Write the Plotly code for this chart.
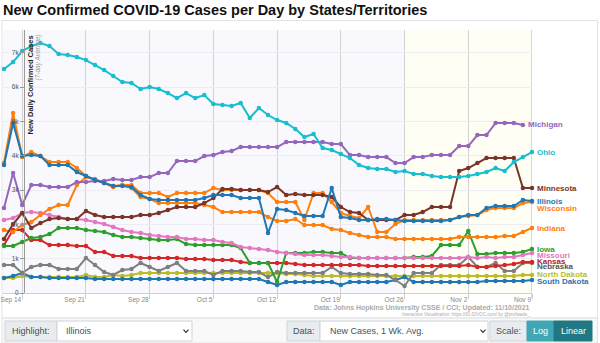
import plotly.graph_objects as go
import pandas as pd

# ---------------- data ----------------
dates = pd.date_range("2021-09-12", "2021-11-09", freq="D")

ohio = [6530,6734,7054,7200,7288,7200,6967,6938,6879,6792,6646,6500,6326,6151,6122,5947,6005,5947,5830,5684,
        5830,5684,5772,5509,5480,5451,5539,5101,5393,5189,5043,4956,4781,4547,4635,4227,4168,4052,3935,3731,
        3644,3615,3615,3527,3556,3469,3469,3411,3381,3381,3381,3411,3469,3527,3644,3556,3819,3964,4110]
michigan = [2478,3498,2565,3148,3148,3090,3090,3090,3236,3236,3265,3265,3323,3294,3294,3381,3381,3498,3498,3848,
            3848,3848,3994,4023,4110,4139,4256,4256,4256,4256,4256,4402,4402,4402,4402,4402,4343,4343,4023,4023,
            3964,3964,3964,3790,3790,3964,3964,4023,4023,4023,4285,4285,4606,4606,4956,4956,4956,4897,None]
minnesota = [1574,2011,2332,1895,2040,2157,2186,2157,2157,2390,2274,2215,2215,2215,2215,2274,2274,2332,2419,2507,
             2507,2507,2623,2769,3032,3032,3002,3002,3002,2944,3090,2857,2886,2857,2857,2857,2798,2507,2361,2332,
             2128,2128,2128,2128,2274,2274,2361,2507,2507,2507,3556,3644,3790,3935,3935,3935,3935,3061,3061]
illinois = [3731,4956,3994,4023,3994,3731,3731,3731,3527,3411,3294,3207,3119,3119,3090,2857,2740,2711,2711,2711,
            2711,2711,2769,2857,2857,2857,2769,2769,2769,1749,2449,2419,2332,2245,2245,2245,3061,2215,2186,2128,
            2128,2157,2157,2128,2099,2099,2099,2099,2099,2128,2215,2274,2274,2478,2536,2536,2536,2711,2682]
indiana = [3790,5247,3964,4110,3994,3819,3819,3819,3644,3411,3294,3207,3119,3148,3061,2798,2740,2623,2623,2623,
           2623,2623,2565,2507,2361,2361,2361,2361,2361,2215,2099,2099,2157,1982,1982,1982,1866,1836,1749,1691,
           1632,1632,1632,1574,1574,1574,1574,1574,1574,1574,1632,1632,1632,1632,1632,1662,1662,1778,1895]
wisconsin = [1836,1778,1982,2070,2274,2449,2565,2565,3148,3381,3323,3207,3090,3148,3148,2915,2915,2915,2798,2915,
             2915,2915,2915,3061,3002,3002,3002,3002,3002,2915,2653,2653,2653,2128,2915,2915,2653,2332,2245,2186,
             2507,1778,1778,2011,2128,2128,2128,2128,2128,2128,2215,2245,2274,2419,2478,2478,2478,2623,2653]
missouri = [2128,2186,2332,2361,2332,2274,2215,2157,2157,2128,2070,2011,1924,1836,1778,1749,1691,1662,1632,1632,
            1574,1574,1545,1545,1487,1458,1341,1312,1283,1253,1195,1166,1137,1108,1108,1108,1079,1049,1049,1020,
            1020,1020,1020,1020,1020,1020,1020,1020,1020,1020,1020,1049,1020,1049,1020,1049,1049,1108,1166]
iowa = [1370,1370,1487,1603,1632,1720,1895,1895,1895,1836,1807,1778,1691,1632,1632,1603,1574,1545,1545,1574,
        1428,1399,1399,1399,1399,1399,1312,875,875,875,321,1166,1166,1166,1195,1195,1166,1166,1020,1020,
        1020,1020,1020,1020,1020,1049,1049,1079,1399,1399,1399,1807,1137,1137,1166,1166,1166,1195,1283]
kansas = [1399,1836,1836,1545,1545,1399,1399,1399,1370,1370,1195,1195,1079,1079,1079,1020,1020,1020,1020,1020,
          991,991,991,962,962,962,904,875,875,875,875,875,845,816,816,816,816,816,816,816,
          787,787,787,787,787,787,787,787,787,787,787,816,758,758,787,816,845,904,904]
nebraska = [816,816,583,758,816,816,700,700,700,1020,816,612,525,670,700,875,758,641,758,875,
            641,641,641,525,641,641,641,612,612,466,612,583,583,583,583,583,758,583,554,554,
            554,525,525,379,204,583,583,583,816,816,816,1049,758,758,875,641,641,875,875]
north_dakota = [437,437,496,466,466,466,466,466,466,525,466,466,525,496,525,583,583,583,583,583,
                583,583,583,583,583,583,583,583,583,583,583,554,554,525,496,496,496,496,496,496,
                496,496,496,496,496,496,496,496,496,496,496,496,496,496,496,496,496,525,525]
south_dakota = [437,496,583,466,466,437,437,437,437,437,408,408,408,408,408,408,408,408,408,408,
                408,408,408,408,408,408,408,408,408,321,233,321,321,321,321,321,321,233,321,321,
                321,321,321,379,466,321,321,321,321,321,321,321,321,350,350,350,350,350,379]

ytick_vals = [0, 1000, 2000, 3000, 4000, 5000, 6000, 7000]
ytick_text = ["0", "1k", "2k", "3k", "4k", "5k", "6k", "7k"]

series = [
    ("North Dakota", north_dakota, "#bcbd22"),
    ("South Dakota", south_dakota, "#1f77b4"),
    ("Nebraska", nebraska, "#7f7f7f"),
    ("Kansas", kansas, "#d62728"),
    ("Iowa", iowa, "#2ca02c"),
    ("Missouri", missouri, "#e377c2"),
    ("Indiana", indiana, "#ff7f0e"),
    ("Wisconsin", wisconsin, "#ff7f0e"),
    ("Minnesota", minnesota, "#7a3428"),
    ("Michigan", michigan, "#9467bd"),
    ("Ohio", ohio, "#17becf"),
    ("Illinois", illinois, "#1f77b4"),
]
label_color = {"Nebraska": "#555555", "Kansas": "#b8201f"}
label_shift = {"Michigan": 1, "Wisconsin": -6, "Missouri": -2, "Nebraska": -4, "South Dakota": -1}

# ---------------- layout helpers (pixel -> paper) ----------------
L, R, T, B = 3, 532, 30, 293
def px(x):
    return (x - L) / (R - L)
def py(y):
    return (B - y) / (B - T)

FONT = "Liberation Sans"
fig = go.Figure()

for name, vals, col in series:
    fig.add_trace(go.Scatter(
        x=dates, y=vals, mode="lines+markers", name=name,
        line=dict(color=col, width=2),
        marker=dict(color=col, size=4.5),
        cliponaxis=False, hoverinfo="skip", connectgaps=False))

annotations = []
for name, vals, col in series:
    idx = max(i for i, v in enumerate(vals) if v is not None)
    annotations.append(dict(
        x=dates[idx], y=vals[idx], xref="x", yref="y", text="<b>%s</b>" % name,
        showarrow=False, xanchor="left", yanchor="middle", xshift=3,
        yshift=label_shift.get(name, 0),
        font=dict(family=FONT, size=8, color=label_color.get(name, col))))

# axis title (rotated)
annotations.append(dict(x=px(30), y=py(34), xref="paper", yref="paper",
                        text="<b>New Daily Confirmed Cases</b>", textangle=-90,
                        showarrow=False, xanchor="center", yanchor="top",
                        font=dict(family=FONT, size=7.5, color="#222")))
annotations.append(dict(x=px(37.5), y=py(33), xref="paper", yref="paper",
                        text="<i>(7-day Average)</i>", textangle=-90,
                        showarrow=False, xanchor="center", yanchor="top",
                        font=dict(family=FONT, size=6.5, color="#999")))
# footer
annotations.append(dict(x=px(532), y=py(308), xref="paper", yref="paper",
                        text="<b>Data: Johns Hopkins University CSSE / CCI; Updated: 11/10/2021</b>",
                        showarrow=False, xanchor="right", yanchor="middle",
                        font=dict(family=FONT, size=7, color="#aaa")))
annotations.append(dict(x=px(532), y=py(314.5), xref="paper", yref="paper",
                        text="Interactive Visualization: https://91-DIVOC.com/ by @profwade_",
                        showarrow=False, xanchor="right", yanchor="middle",
                        font=dict(family=FONT, size=4.5, color="#aaa")))

# controls text
ctl_y = py(331)
def ctext(x, text, anchor="center", color="#495057", size=9):
    annotations.append(dict(x=px(x), y=ctl_y, xref="paper", yref="paper", text=text,
                            showarrow=False, xanchor=anchor, yanchor="middle",
                            font=dict(family=FONT, size=size, color=color)))
ctext(31, "Highlight:")
ctext(64, "Illinois", "left")
ctext(303.5, "Data:")
ctext(328, "New Cases, 1 Wk. Avg.", "left")
ctext(508.5, "Scale:")
ctext(540.5, "Log", color="white")
ctext(573, "Linear", color="white")

shapes = []
# card frame and separator
shapes.append(dict(type="rect", xref="paper", yref="paper", x0=px(2), x1=px(597.5), y0=py(318), y1=py(20.5),
                   line=dict(color="#e2e2e2", width=1), fillcolor="rgba(0,0,0,0)", layer="below"))
shapes.append(dict(type="rect", xref="paper", yref="paper", x0=px(2), x1=px(597.5), y0=py(343), y1=py(318),
                   line=dict(color="#e2e2e2", width=1), fillcolor="#f9f9f9", layer="below"))
# highlighted recent-period background
shapes.append(dict(type="rect", xref="x", yref="paper", x0="2021-10-26", x1="2021-11-09", y0=0, y1=1,
                   line=dict(width=0), fillcolor="#fefef4", layer="below"))
# right border line
shapes.append(dict(type="line", xref="x", yref="paper", x0="2021-11-09", x1="2021-11-09", y0=py(298), y1=1,
                   line=dict(color="#b5b5b5", width=1), layer="below"))

def box(x0, x1, fill, line="#ced4da"):
    shapes.append(dict(type="rect", xref="paper", yref="paper", x0=px(x0), x1=px(x1),
                       y0=py(341), y1=py(321), line=dict(color=line, width=1), fillcolor=fill))
box(5, 57, "#e9ecef")
box(57, 192, "white")
box(287, 320, "#e9ecef")
box(320, 488, "white")
box(490, 527, "#e9ecef")
box(527, 554, "#41a7b5", "#41a7b5")
box(554, 592, "#1f7883", "#1f7883")

def chevron(cx, cy):
    shapes.append(dict(type="path", xref="paper", yref="paper",
                       path="M %f %f L %f %f L %f %f" % (px(cx - 2.5), py(cy - 1.3), px(cx), py(cy + 1.3),
                                                        px(cx + 2.5), py(cy - 1.3)),
                       line=dict(color="#333", width=1.2)))
chevron(186, 331)
chevron(483, 331)

fig.update_layout(
    width=600, height=343,
    margin=dict(l=L, r=600 - R, t=T, b=343 - B),
    paper_bgcolor="white", plot_bgcolor="#f8f8fd",
    showlegend=False, hovermode=False,
    title=dict(text="<b>New Confirmed COVID-19 Cases per Day by States/Territories</b>",
               x=3 / 600, xref="container", xanchor="left",
               y=1 - 9.5 / 343, yref="container", yanchor="middle",
               font=dict(family=FONT, size=14.5, color="#111")),
    xaxis=dict(type="date", range=["2021-09-11 21:22", "2021-11-09"],
               tick0="2021-09-14", dtick=7 * 86400000, tickformat="%b %-d",
               ticklabelposition="outside left", ticks="outside", ticklen=5, tickcolor="#cfcfcf",
               showgrid=True, gridcolor="#d2d2d2", gridwidth=1,
               showline=True, linecolor="#cfcfcf", zeroline=False, automargin=False,
               tickfont=dict(family=FONT, size=6.5, color="#888")),
    yaxis=dict(range=[0, 7668], tickvals=ytick_vals, ticktext=ytick_text,
               anchor="free", position=px(24), side="left",
               ticks="outside", ticklen=4, tickcolor="#999",
               showgrid=True, gridcolor="#ececf2", gridwidth=1,
               showline=True, linecolor="#999", zeroline=False, automargin=False,
               tickfont=dict(family=FONT, size=6.5, color="#555")),
    shapes=shapes, annotations=annotations,
)

fig.write_html("out.html", config={"displayModeBar": False})
